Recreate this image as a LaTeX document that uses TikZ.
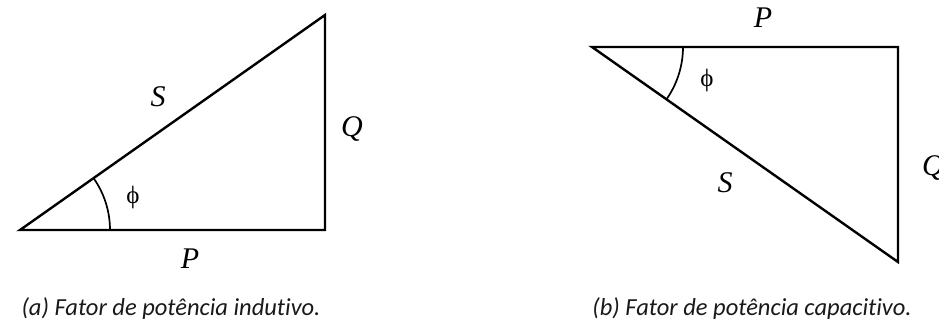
\documentclass[tikz,border=0pt]{standalone}
\usepackage{fontspec}
\setmainfont{Liberation Serif}
\newfontfamily\capfont[Ligatures=NoCommon]{Carlito}
\begin{document}
\begin{tikzpicture}[x=1pt,y=-1pt,
  side/.style={line width=2.4pt,line join=miter},
  anglearc/.style={line width=1.7pt},
  lbl/.style={font=\fontsize{30}{32}\selectfont\itshape,inner sep=0pt},
  ang/.style={font=\fontsize{25}{27}\selectfont,inner sep=0pt},
  capt/.style={font=\capfont\fontsize{24.5}{26}\selectfont\itshape,text=black!90,inner sep=0pt}]
\useasboundingbox (0,0) rectangle (939,326);
% (a)
\coordinate (A) at (20,230);
\coordinate (B) at (325,230);
\coordinate (C) at (325,15);
\draw[side] (A) -- (B) -- (C) -- cycle;
\draw[anglearc] ([xshift=90pt]A) arc[start angle=0,end angle=35.2,radius=90pt];
\node[lbl] (Sa) at (158,97) {S};
\node[lbl] (Qa) at (352,129) {Q};
\node[lbl] (Pa) at (190,259) {P};
\node[ang] (phia) at (133,197) {ϕ};
\node[capt] (capa) at (171,309) {(a) Fator de potência indutivo.};
% (b)
\coordinate (D) at (592,47);
\coordinate (E) at (898,47);
\coordinate (F) at (898,262);
\draw[side] (D) -- (E) -- (F) -- cycle;
\draw[anglearc] ([xshift=91pt]D) arc[start angle=0,end angle=-35.1,radius=91pt];
\node[lbl] (Pb) at (763,18) {P};
\node[lbl] (Sb) at (725,183) {S};
\node[lbl] (Qb) at (933,168) {Q};
\node[ang] (phib) at (707,80) {ϕ};
\node[capt] (capb) at (752,309) {(b) Fator de potência capacitivo.};
\end{tikzpicture}
\end{document}
